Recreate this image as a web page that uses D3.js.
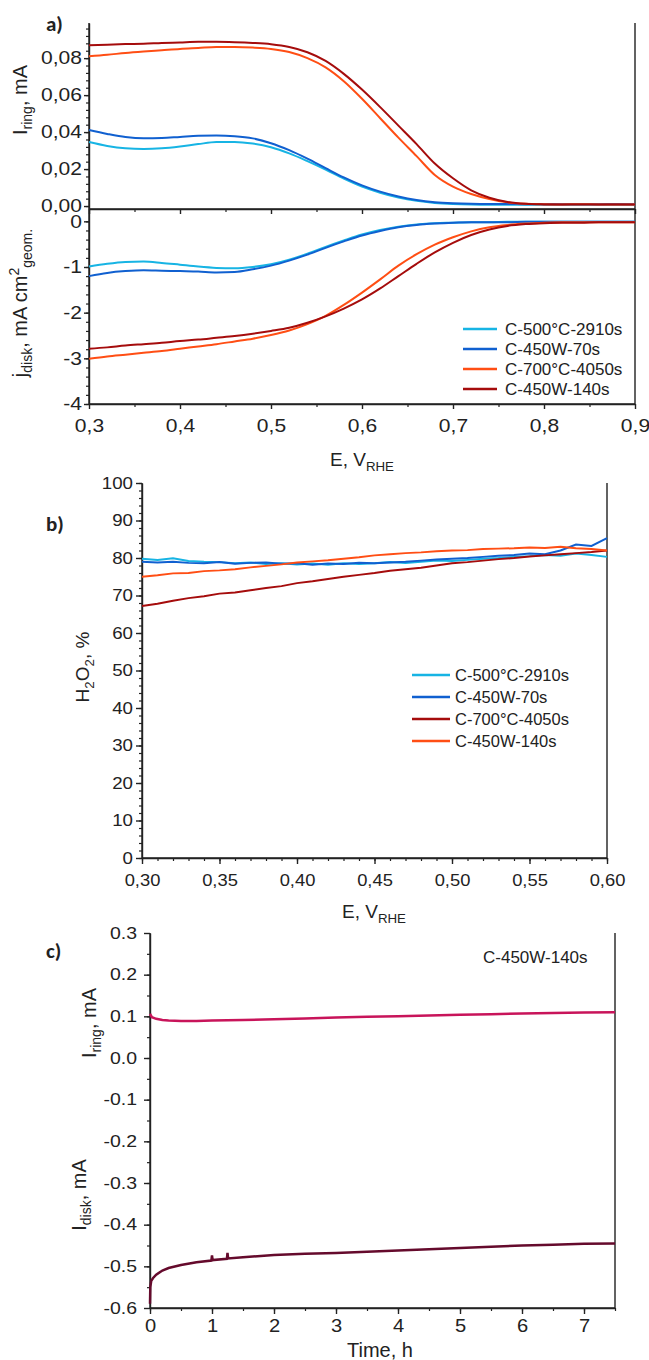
<!DOCTYPE html>
<html>
<head>
<meta charset="utf-8">
<script src="https://cdn.jsdelivr.net/npm/d3@7"></script>
<style>
  body { margin: 0; background: #fff; }
  svg { display: block; }
  text { font-family: "Liberation Sans", Arial, sans-serif; fill: #222; }
</style>
</head>
<body>
<svg id="chart"></svg>
<script>
// ---- panel a: ring current and disk current vs potential ----
const eA = [0.30, 0.32, 0.34, 0.36, 0.38, 0.40, 0.42, 0.44, 0.46, 0.48, 0.50, 0.52, 0.54, 0.56, 0.58, 0.60,
  0.62, 0.64, 0.66, 0.68, 0.70, 0.72, 0.74, 0.76, 0.78, 0.80, 0.82, 0.84, 0.86, 0.88, 0.90];
const ringC500 = [0.0346, 0.0325, 0.0312, 0.0308, 0.0312, 0.0322, 0.0335, 0.0346, 0.0347, 0.0338, 0.0318, 0.0285, 0.0243, 0.0197, 0.0148, 0.0105,
  0.0072, 0.0046, 0.0028, 0.0017, 0.0011, 0.0008, 0.0007, 0.0007, 0.0007, 0.0007, 0.0007, 0.0007, 0.0007, 0.0007, 0.0007];
const ringW70 = [0.0411, 0.0390, 0.0373, 0.0366, 0.0368, 0.0374, 0.0380, 0.0382, 0.0378, 0.0366, 0.0340, 0.0302, 0.0256, 0.0205, 0.0155, 0.0112,
  0.0078, 0.0052, 0.0033, 0.0021, 0.0015, 0.0012, 0.0011, 0.0011, 0.0010, 0.0011, 0.0010, 0.0011, 0.0010, 0.0011, 0.0010];
const ringC700 = [0.0810, 0.0818, 0.0828, 0.0836, 0.0843, 0.0850, 0.0855, 0.0860, 0.0860, 0.0857, 0.0850, 0.0833, 0.0800, 0.0750, 0.0675, 0.0580,
  0.0475, 0.0370, 0.0270, 0.0168, 0.0105, 0.0065, 0.0038, 0.0020, 0.0012, 0.0010, 0.0009, 0.0010, 0.0009, 0.0009, 0.0009];
const ringW140 = [0.0870, 0.0873, 0.0876, 0.0878, 0.0882, 0.0885, 0.0888, 0.0888, 0.0886, 0.0882, 0.0875, 0.0860, 0.0832, 0.0785, 0.0715, 0.0630,
  0.0535, 0.0435, 0.0335, 0.0230, 0.0150, 0.0085, 0.0045, 0.0022, 0.0012, 0.0009, 0.0008, 0.0008, 0.0008, 0.0008, 0.0008];

const diskC500 = [-0.99, -0.93, -0.89, -0.88, -0.91, -0.95, -0.99, -1.02, -1.03, -1.00, -0.94, -0.84, -0.71, -0.56, -0.42, -0.29,
  -0.19, -0.12, -0.07, -0.04, -0.03, -0.02, -0.02, -0.01, -0.01, -0.01, -0.01, -0.01, -0.01, -0.01, -0.01];
const diskW70 = [-1.20, -1.13, -1.09, -1.07, -1.08, -1.09, -1.10, -1.12, -1.11, -1.05, -0.97, -0.86, -0.73, -0.58, -0.44, -0.31,
  -0.21, -0.13, -0.08, -0.05, -0.03, -0.02, -0.02, -0.02, -0.01, -0.01, -0.01, -0.01, -0.01, -0.01, -0.01];
const diskC700 = [-3.01, -2.96, -2.92, -2.88, -2.84, -2.79, -2.74, -2.69, -2.63, -2.57, -2.49, -2.39, -2.25, -2.07, -1.83, -1.56,
  -1.27, -0.97, -0.72, -0.51, -0.35, -0.22, -0.13, -0.08, -0.05, -0.03, -0.02, -0.02, -0.02, -0.02, -0.02];
const diskW140 = [-2.79, -2.76, -2.72, -2.69, -2.66, -2.62, -2.59, -2.55, -2.51, -2.46, -2.40, -2.33, -2.22, -2.08, -1.91, -1.71,
  -1.47, -1.20, -0.93, -0.68, -0.47, -0.30, -0.18, -0.10, -0.06, -0.04, -0.03, -0.03, -0.02, -0.02, -0.02];

const namesA = ["C-500°C-2910s", "C-450W-70s", "C-700°C-4050s", "C-450W-140s"];
const colorsA = ["#17b4e4", "#1060d0", "#ff4e14", "#a50c0c"];

// ---- panel b: H2O2 yield ----
const eB = [0.30, 0.31, 0.32, 0.33, 0.34, 0.35, 0.36, 0.37, 0.38, 0.39, 0.40, 0.41, 0.42, 0.43, 0.44, 0.45,
  0.46, 0.47, 0.48, 0.49, 0.50, 0.51, 0.52, 0.53, 0.54, 0.55, 0.56, 0.57, 0.58, 0.59, 0.60];
const h2o2C500 = [79.8, 79.5, 79.9, 79.2, 79.0, 78.9, 78.6, 78.8, 78.4, 78.6, 78.3, 78.5, 78.2, 78.6, 78.4, 78.6,
  78.9, 78.7, 79.0, 79.3, 79.2, 79.5, 79.8, 80.0, 80.3, 80.5, 80.8, 80.6, 81.2, 80.8, 80.3];
const h2o2W70 = [79.0, 78.8, 79.0, 78.7, 78.6, 78.9, 78.5, 78.7, 78.8, 78.5, 78.6, 78.2, 78.5, 78.4, 78.7, 78.6,
  78.8, 79.0, 79.3, 79.6, 79.8, 80.0, 80.3, 80.6, 80.8, 81.2, 81.0, 82.0, 83.6, 83.2, 85.3];
const h2o2C700 = [67.2, 67.8, 68.6, 69.3, 69.8, 70.5, 70.8, 71.4, 72.0, 72.5, 73.3, 73.8, 74.4, 75.0, 75.5, 76.0,
  76.6, 77.0, 77.4, 78.0, 78.6, 78.9, 79.3, 79.7, 80.0, 80.4, 80.7, 81.0, 81.3, 81.6, 82.0];
const h2o2W140 = [75.0, 75.4, 75.9, 76.0, 76.5, 76.7, 77.0, 77.5, 77.9, 78.3, 78.8, 79.1, 79.4, 79.8, 80.2, 80.7,
  81.0, 81.3, 81.5, 81.8, 82.0, 82.1, 82.4, 82.5, 82.6, 82.8, 82.7, 83.0, 82.6, 82.4, 82.0];

const namesB = ["C-500°C-2910s", "C-450W-70s", "C-700°C-4050s", "C-450W-140s"];
const colorsB = ["#17b4e4", "#1060d0", "#a50c0c", "#ff4e14"];

// ---- panel c: stability test ----
const tRing = [0, 0.03, 0.1, 0.2, 0.3, 0.5, 0.75, 1, 1.5, 2, 2.5, 3, 3.5, 4, 4.5, 5, 5.5, 6, 6.5, 7, 7.5];
const iRing = [0.106, 0.098, 0.094, 0.091, 0.090, 0.089, 0.089, 0.090, 0.091, 0.093, 0.095, 0.097, 0.099, 0.100,
  0.102, 0.104, 0.105, 0.107, 0.108, 0.109, 0.110];
const tDisk = [0, 0.005, 0.02, 0.05, 0.1, 0.2, 0.3, 0.5, 0.75, 0.99, 1.0, 1.01, 1.24, 1.25, 1.26, 1.5, 2, 2.5, 3, 3.5,
  4, 4.5, 5, 5.5, 6, 6.5, 7, 7.5];
const iDisk = [-0.59, -0.55, -0.535, -0.528, -0.52, -0.51, -0.504, -0.497, -0.49, -0.486, -0.474, -0.485, -0.482, -0.468, -0.481,
  -0.478, -0.473, -0.470, -0.468, -0.465, -0.462, -0.459, -0.456, -0.453, -0.450, -0.448, -0.446, -0.445];
const sampleC = "C-450W-140s";

const width = 649;
const height = 1360;
const svg = d3.select("#chart").attr("width", width).attr("height", height);

// helper: minor ticks (no labels) + major ticks with labels, labels a bit wider like the original
function axis(make, scale, tx, ty, majors, minors, fmt, o) {
  svg.append("g").attr("transform", `translate(${tx},${ty})`)
    .call(make(scale).tickValues(minors).tickSize(3).tickFormat(""))
    .call(g => g.select(".domain").remove())
    .selectAll("line").attr("stroke", "#222").attr("stroke-width", 1.2);
  const g = svg.append("g").attr("transform", `translate(${tx},${ty})`)
    .call(make(scale).tickValues(majors).tickSize(o.tick).tickSizeOuter(0).tickFormat(fmt).tickPadding(o.pad));
  g.selectAll("text").attr("font-size", o.size).attr("fill", "#222")
    .style("font-family", '"Liberation Sans", Arial, sans-serif')
    .attr("transform", `scale(${o.sx},1)`)
    .attr("x", function () { return (+d3.select(this).attr("x") || 0) / o.sx; });
  if (o.dy) g.selectAll("text").attr("dy", o.dy);
  g.selectAll("line, path").attr("stroke", "#222").attr("stroke-width", 1.4);
  return g;
}

function frame(x0, y0, x1, y1) {
  svg.append("path")
    .attr("d", `M${x0},${y1}V${y0}H${x1}V${y1}`)
    .attr("fill", "none").attr("stroke", "#222").attr("stroke-width", 1.4);
}

function vLabel(x, y, parts, size) {
  const t = svg.append("text").attr("transform", `translate(${x},${y}) rotate(-90)`)
    .attr("text-anchor", "middle").attr("font-size", size);
  parts.forEach(p => t.append("tspan").attr("dy", p.dy || 0)
    .attr("font-size", p.sub ? size * 0.7 : size).text(p.t));
}

function hLabel(x, y, parts, size) {
  const t = svg.append("text").attr("x", x).attr("y", y).attr("text-anchor", "middle").attr("font-size", size);
  parts.forEach(p => t.append("tspan").attr("dy", p.dy || 0)
    .attr("font-size", p.sub ? size * 0.7 : size).text(p.t));
}

function panelLabel(x, y, s) {
  svg.append("text").attr("x", x).attr("y", y).attr("font-size", 21).attr("font-weight", "bold")
    .style("font-family", "Carlito, 'Open Sans', 'Liberation Sans', Arial, sans-serif").text(s);
}

const comma = d => d3.format(".2f")(d).replace(".", ",");
const comma1 = d => d3.format(".1f")(d).replace(".", ",");
const hyphen = s => s.replace("−", "-");

// ================= panel a =================
const xA = d3.scaleLinear([0.3, 0.9], [89, 635]);
const yRing = d3.scaleLinear([-0.0016, 0.099], [209, 23]);
const yDisk = d3.scaleLinear([-4, 0.27], [404, 209]);

frame(89, 404, 635, 23);
svg.append("line").attr("x1", 89).attr("x2", 635).attr("y1", 209).attr("y2", 209)
  .attr("stroke", "#222").attr("stroke-width", 1.4);

const optA = { tick: 5, pad: 2, size: 18, sx: 1.17 };
axis(d3.axisLeft, yRing, 89, 0, [0, 0.02, 0.04, 0.06, 0.08], d3.range(0, 0.0985, 0.004), comma, optA);
axis(d3.axisLeft, yDisk, 89, 0, [-4, -3, -2, -1, 0], d3.range(-4, 0.01, 0.2), d => hyphen(d3.format("d")(d)), optA);
axis(d3.axisBottom, xA, 0, 209, [0.3, 0.4, 0.5, 0.6, 0.7, 0.8, 0.9], [0.35, 0.45, 0.55, 0.65, 0.75, 0.85], () => "", optA);
axis(d3.axisBottom, xA, 0, 404, [0.3, 0.4, 0.5, 0.6, 0.7, 0.8, 0.9], [0.35, 0.45, 0.55, 0.65, 0.75, 0.85], comma1,
  { tick: 5, pad: 6, size: 18, sx: 1.17, dy: "0.95em" });

const ringA = [ringC500, ringW70, ringC700, ringW140];
const diskA = [diskC500, diskW70, diskC700, diskW140];
const lineRing = d3.line().x((d, i) => xA(eA[i])).y(d => yRing(d)).curve(d3.curveMonotoneX);
const lineDisk = d3.line().x((d, i) => xA(eA[i])).y(d => yDisk(d)).curve(d3.curveMonotoneX);

ringA.forEach((s, k) => svg.append("path").attr("d", lineRing(s))
  .attr("fill", "none").attr("stroke", colorsA[k]).attr("stroke-width", 2));
diskA.forEach((s, k) => svg.append("path").attr("d", lineDisk(s))
  .attr("fill", "none").attr("stroke", colorsA[k]).attr("stroke-width", 2));

// legend a
namesA.forEach((n, k) => {
  const y = 329 + k * 20;
  svg.append("line").attr("x1", 463).attr("x2", 497).attr("y1", y).attr("y2", y)
    .attr("stroke", colorsA[k]).attr("stroke-width", 2.5);
  svg.append("text").attr("x", 505).attr("y", y + 6).attr("font-size", 17).text(n);
});

panelLabel(46, 31, "a)");
vLabel(27, 100, [{ t: "I" }, { t: "ring", sub: true, dy: 5 }, { t: ", mA", dy: -5 }], 20);
vLabel(27, 303, [{ t: "j" }, { t: "disk", sub: true, dy: 5 }, { t: ", mA cm", dy: -5 }, { t: "2", sub: true, dy: -8 },
  { t: "geom.", sub: true, dy: 13 }], 20);
hLabel(362, 466, [{ t: "E, V" }, { t: "RHE", sub: true, dy: 5 }], 19);

// ================= panel b =================
const xB = d3.scaleLinear([0.3, 0.6], [142, 607]);
const yB = d3.scaleLinear([0, 100], [858, 483]);

frame(142, 858, 607, 483);
axis(d3.axisLeft, yB, 142, 0, d3.range(0, 101, 10), d3.range(0, 100.5, 2), d3.format("d"),
  { tick: 6, pad: 3, size: 17, sx: 1.1 });
axis(d3.axisBottom, xB, 0, 858, [0.30, 0.35, 0.40, 0.45, 0.50, 0.55, 0.60], d3.range(0.30, 0.605, 0.01), comma,
  { tick: 6, pad: 6, size: 17, sx: 1.08, dy: "0.95em" });

const lineB = d3.line().x((d, i) => xB(eB[i])).y(d => yB(d));
[h2o2C500, h2o2W70, h2o2C700, h2o2W140].forEach((s, k) => svg.append("path").attr("d", lineB(s))
  .attr("fill", "none").attr("stroke", colorsB[k]).attr("stroke-width", 2));

namesB.forEach((n, k) => {
  const y = 675 + k * 22;
  svg.append("line").attr("x1", 412).attr("x2", 450).attr("y1", y).attr("y2", y)
    .attr("stroke", colorsB[k]).attr("stroke-width", 2.5);
  svg.append("text").attr("x", 455).attr("y", y + 6).attr("font-size", 16.5).text(n);
});

panelLabel(46, 531, "b)");
vLabel(89, 667, [{ t: "H" }, { t: "2", sub: true, dy: 5 }, { t: "O", dy: -5 }, { t: "2", sub: true, dy: 5 }, { t: ", %", dy: -5 }], 19);
hLabel(374, 918, [{ t: "E, V" }, { t: "RHE", sub: true, dy: 5 }], 19);

// ================= panel c =================
const xC = d3.scaleLinear([0, 7.5], [150, 615]);
const yC = d3.scaleLinear([-0.6, 0.3], [1308, 933]);

frame(150, 1308, 615, 933);
axis(d3.axisLeft, yC, 150, 0, d3.range(-6, 4).map(d => d / 10), d3.range(-11, 6).map(d => d / 20),
  d => hyphen(d3.format(".1f")(d)), { tick: 6, pad: 7, size: 16.5, sx: 1.18 });
axis(d3.axisBottom, xC, 0, 1308, d3.range(0, 8), d3.range(0, 7.6, 0.5), d3.format("d"),
  { tick: 6, pad: 5, size: 18, sx: 1.12, dy: "0.72em" });

const lineRingC = d3.line().x((d, i) => xC(tRing[i])).y(d => yC(d));
const lineDiskC = d3.line().x((d, i) => xC(tDisk[i])).y(d => yC(d));
svg.append("path").attr("d", lineRingC(iRing)).attr("fill", "none").attr("stroke", "#c8145a").attr("stroke-width", 2.5);
svg.append("path").attr("d", lineDiskC(iDisk)).attr("fill", "none").attr("stroke", "#650a2c").attr("stroke-width", 2.5);

svg.append("text").attr("x", 483).attr("y", 963).attr("font-size", 17).text(sampleC);
panelLabel(46, 958, "c)");
vLabel(96, 1023, [{ t: "I" }, { t: "ring", sub: true, dy: 5 }, { t: ", mA", dy: -5 }], 20);
vLabel(86, 1195, [{ t: "I" }, { t: "disk", sub: true, dy: 5 }, { t: ", mA", dy: -5 }], 20);
hLabel(380, 1357, [{ t: "Time, h" }], 20);
</script>
</body>
</html>
